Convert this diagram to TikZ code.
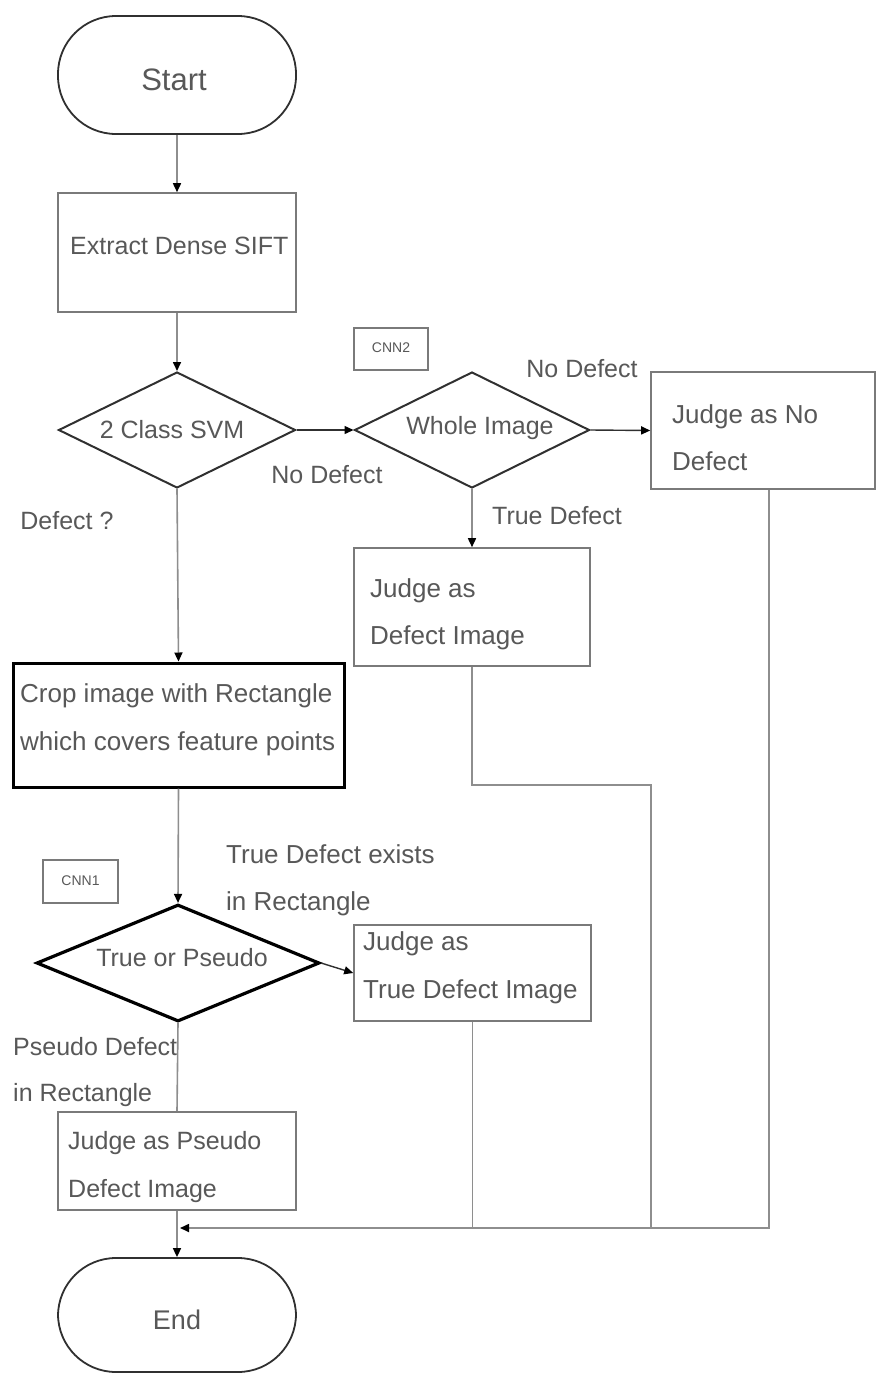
\documentclass[tikz,border=0pt]{standalone}
\usepackage{fontspec}
\setmainfont{Liberation Sans}
\usetikzlibrary{arrows.meta,shapes.geometric}
\definecolor{txt}{HTML}{585858}
\definecolor{ln}{HTML}{8E8E8E}
\definecolor{boxln}{HTML}{7A7A7A}
\definecolor{edge}{HTML}{303030}

\begin{document}
\begin{tikzpicture}[x=1pt,y=-1pt,
  lbl/.style={text=txt,font=\fontsize{26}{30}\selectfont,inner sep=0pt,anchor=mid west,yshift=-5pt},
  narrow/.style={font=\fontsize{25}{30}\selectfont},
  clbl/.style={text=txt,font=\fontsize{25}{30}\selectfont,inner sep=0pt,anchor=center},
  small/.style={text=txt,font=\fontsize{14}{16}\selectfont,inner sep=0pt},
  term/.style={draw=edge,line width=1.8pt,rounded corners=58pt,minimum width=238pt,minimum height=118pt,inner sep=0pt},
  procbox/.style={draw=boxln,line width=1.6pt,inner sep=0pt},
  heavybox/.style={draw=black,line width=3pt,inner sep=0pt},
  dia/.style={diamond,draw=edge,line width=2pt,inner sep=0pt,aspect=2},
  heavydia/.style={diamond,draw=black,line width=3.2pt,inner sep=0pt,aspect=2},
  flow/.style={draw=ln,line width=1.6pt},
  tip/.style={-{Triangle[length=9pt,width=8pt,color=black]}},
  arr/.style={flow,tip},
  darr/.style={draw=edge,line width=1.4pt,tip}
]
\useasboundingbox[fill=white] (0,0) rectangle (876,1374);

% start and first steps
\node[term] (start) at (177,75) {};
\node[clbl,font=\fontsize{31}{36}\selectfont] (starttxt) at (174,80) {Start};

\node[procbox,minimum width=238pt,minimum height=119pt] (extract) at (177,252.5) {};
\node[lbl,narrow] (extracttxt) at (70,247) {Extract Dense SIFT};

\node[dia,minimum width=237pt,minimum height=116pt] (svm) at (177,430) {};
\node[clbl] (svmtxt) at (172,430) {2 Class SVM};

% CNN2 branch
\node[procbox,line width=1.2pt,minimum width=74pt,minimum height=42pt] (cnn2) at (391,349) {};
\node[small] (cnn2txt) at (391,348) {CNN2};

\node[dia,minimum width=235pt,minimum height=116pt] (whole) at (472,430) {};
\node[clbl] (wholetxt) at (480,428) {Whole Image};

\node[procbox,minimum width=224pt,minimum height=117pt] (nodef) at (763,430.5) {};
\node[lbl] (nodeftxta) at (672,416) {Judge as No};
\node[lbl] (nodeftxtb) at (672,463) {Defect};

\node[procbox,minimum width=236pt,minimum height=118pt] (defimg) at (472,607) {};
\node[lbl] (defimgtxta) at (370,590) {Judge as};
\node[lbl] (defimgtxtb) at (370,637) {Defect Image};

% CNN1 branch
\node[heavybox,minimum width=331pt,minimum height=124pt] (crop) at (178.5,725) {};
\node[lbl] (croptxta) at (20,695) {Crop image with Rectangle};
\node[lbl] (croptxtb) at (20,743) {which covers feature points};

\node[procbox,line width=1.2pt,minimum width=75pt,minimum height=43pt] (cnn1) at (80.5,881.5) {};
\node[small] (cnn1txt) at (80.5,881) {CNN1};

\node[heavydia,minimum width=283pt,minimum height=117pt] (tp) at (178,963) {};
\node[clbl] (tptxt) at (182,958) {True or Pseudo};

\node[procbox,minimum width=237pt,minimum height=96pt] (truedef) at (472.5,973) {};
\node[lbl] (truedeftxta) at (363,943) {Judge as};
\node[lbl] (truedeftxtb) at (363,991) {True Defect Image};

\node[procbox,minimum width=238pt,minimum height=98pt] (pseudo) at (177,1161) {};
\node[lbl,narrow] (pseudotxta) at (68,1142) {Judge as Pseudo};
\node[lbl,narrow] (pseudotxtb) at (68,1190) {Defect Image};

\node[term,minimum height=114pt] (end) at (177,1315) {};
\node[clbl,font=\fontsize{27}{32}\selectfont] (endtxt) at (177,1320) {End};

% branch labels
\node[clbl] (lnodefa) at (327,475) {No Defect};
\node[clbl] (lnodefb) at (582,369) {No Defect};
\node[clbl] (ltrue) at (557,516) {True Defect};
\node[clbl] (ldefect) at (67,521) {Defect ?};
\node[lbl] (lexista) at (226,856) {True Defect exists};
\node[lbl] (lexistb) at (226,903) {in Rectangle};
\node[lbl,narrow] (lpseudoa) at (13,1048) {Pseudo Defect};
\node[lbl,narrow] (lpseudob) at (13,1094) {in Rectangle};

% connectors
\draw[arr] (start.south) -- (extract.north);
\draw[arr] (extract.south) -- (svm.north);
\draw[darr] (svm.east) -- (whole.west);
\draw[darr] (whole.east) -- (nodef.west);
\draw[arr] (whole.south) -- (defimg.north);
\draw[arr] (svm.south) -- (crop.north);
\draw[arr] (crop.south) -- (tp.north);
\draw[darr] (tp.east) -- (truedef.west);
\draw[flow] (tp.south) -- (pseudo.north);
\draw[arr] (pseudo.south) -- (end.north);

% merging lines into the end
\coordinate (j) at (769,1228);
\coordinate (k) at (651,785);
\coordinate (m) at (180,1228);
\draw[flow] (defimg.south) |- (k) -- (k |- j);
\draw[flow] (truedef.south) -- (truedef.south |- j);
\draw[arr] (nodef.south -| j) -- (j) -- (m);
\end{tikzpicture}
\end{document}
